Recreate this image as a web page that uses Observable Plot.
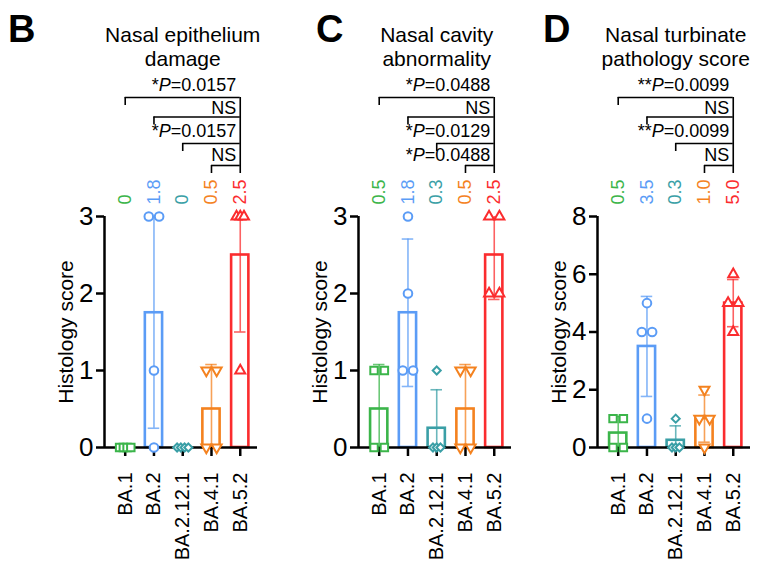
<!DOCTYPE html>
<html><head><meta charset="utf-8">
<script src="https://cdn.jsdelivr.net/npm/d3@7"></script>
<script src="https://cdn.jsdelivr.net/npm/@observablehq/plot@0.6"></script>
<style>
body{margin:0;background:#fff;font-family:Arial,"Liberation Sans",Helvetica,sans-serif;}
#wrap{position:relative;width:769px;height:567px;overflow:hidden;background:#fff;}
.panel{position:absolute;top:0;}
.letter{position:absolute;top:10px;font-weight:bold;font-size:38px;line-height:1;color:#000;}
</style></head><body><div id="wrap"></div>
<script>
// ---------- data ----------
const variants = ["BA.1", "BA.2", "BA.2.12.1", "BA.4.1", "BA.5.2"];
const colors = ["#3bb54a", "#5b9cf6", "#3a9fa6", "#f4821f", "#fb2c2e"];
const panelLetters = ["B", "C", "D"];
const titles = ["Nasal epithelium\ndamage", "Nasal cavity\nabnormality", "Nasal turbinate\npathology score"];
const yLabel = "Histology score";
const yMax = [3, 3, 8];
const yTicksB = [0, 1, 2, 3];
const yTicksC = [0, 1, 2, 3];
const yTicksD = [0, 2, 4, 6, 8];
const meanLabelsB = ["0", "1.8", "0", "0.5", "2.5"];
const meanLabelsC = ["0.5", "1.8", "0.3", "0.5", "2.5"];
const meanLabelsD = ["0.5", "3.5", "0.3", "1.0", "5.0"];
// individual animal scores per variant
const scoresB = [[0, 0, 0, 0], [3, 3, 1, 0], [0, 0, 0, 0], [1, 1, 0, 0], [3, 3, 3, 1]];
const scoresC = [[1, 1, 0, 0], [3, 2, 1, 1], [1, 0, 0, 0], [1, 1, 0, 0], [3, 3, 2, 2]];
const scoresD = [[1, 1, 0, 0], [5, 4, 4, 1], [1, 0, 0, 0], [2, 1, 1, 0], [6, 5, 5, 4]];
// comparisons: each variant index vs BA.5.2
const compareFrom = [0, 1, 2, 3];
const compareTo = 4;
const pTextB = ["*P=0.0157", "NS", "*P=0.0157", "NS"];
const pTextC = ["*P=0.0488", "NS", "*P=0.0129", "*P=0.0488"];
const pTextD = ["**P=0.0099", "NS", "**P=0.0099", "NS"];

const panels = [
  {letter: panelLetters[0], title: titles[0], ymax: yMax[0], ticks: yTicksB, labels: meanLabelsB, scores: scoresB, ptext: pTextB},
  {letter: panelLetters[1], title: titles[1], ymax: yMax[1], ticks: yTicksC, labels: meanLabelsC, scores: scoresC, ptext: pTextC},
  {letter: panelLetters[2], title: titles[2], ymax: yMax[2], ticks: yTicksD, labels: meanLabelsD, scores: scoresD, ptext: pTextD}
];

// ---------- layout ----------
const H = 567, MT = 216, MB = 120, ML = 75, MR = 10, W = 238;
const plotH = H - MT - MB;
const xDomain = [-0.72, 4.6];
const panelLeft = [29, 283, 522];
const letterLeft = [8, 316, 543];
const bracketOff = [119, 99.5, 73, 51];
const textOff = [125.5, 102.5, 80, 55.5];
const font = "Arial, 'Liberation Sans', Helvetica, sans-serif";

const triDown = {
  draw(context, size) {
    const s3 = Math.sqrt(3);
    const y = -Math.sqrt(size / (s3 * 3));
    context.moveTo(0, -y * 2);
    context.lineTo(-s3 * y, y);
    context.lineTo(s3 * y, y);
    context.closePath();
  }
};
const symbols = ["square", "circle", "diamond2", triDown, "triangle"];
const symbolR = [4.2, 4.3, 3.6, 3.7, 3.7];

function dodge(vals) {
  const counts = d3.rollup(vals, v => v.length, v => v);
  const seen = new Map();
  return vals.map(v => {
    const k = counts.get(v), j = seen.get(v) || 0;
    seen.set(v, j + 1);
    const step = k === 2 ? 0.36 : 0.13;
    return (j - (k - 1) / 2) * step;
  });
}

const wrap = document.getElementById("wrap");

panels.forEach((p, pi) => {
  const ymax = p.ymax;
  const toData = off => ymax * (1 + off / plotH);
  const bars = variants.map((v, i) => {
    const vals = p.scores[i];
    const mean = d3.mean(vals), sd = d3.deviation(vals);
    return {i, v, mean, sd, lo: Math.max(0, mean - sd), hi: Math.min(ymax, mean + sd),
      color: colors[i], label: p.labels[i]};
  });
  const caps = [];
  bars.forEach(b => {
    if (b.sd > 0) {
      if (b.mean - b.sd >= 0) caps.push({i: b.i, y: b.mean - b.sd, color: b.color});
      if (b.mean + b.sd <= ymax) caps.push({i: b.i, y: b.mean + b.sd, color: b.color});
    }
  });
  const pointMarks = variants.map((v, i) => {
    const vals = p.scores[i];
    const offs = dodge(vals);
    const pts = vals.map((s, j) => ({x: i + offs[j], y: s}));
    return Plot.dot(pts, {x: "x", y: "y", symbol: symbols[i], r: symbolR[i], stroke: colors[i], fill: "white", strokeWidth: 2});
  });

  const svg = Plot.plot({
    width: W, height: H,
    marginTop: MT, marginBottom: MB, marginLeft: ML, marginRight: MR,
    style: {fontFamily: font, color: "black", background: "transparent", overflow: "visible"},
    x: {domain: xDomain},
    y: {domain: [0, ymax]},
    color: {type: "identity"},
    marks: [
      Plot.axisY(p.ticks, {tickSize: 8, fontSize: 26, strokeWidth: 2.5, tickPadding: 3, tickFormat: d => String(d), label: null}),
      Plot.axisX([0, 1, 2, 3, 4], {tickSize: 9, tickRotate: -90, tickFormat: i => variants[i], fontSize: 20, tickPadding: 16, strokeWidth: 2.5, label: null}),
      Plot.rectY(bars, {x1: d => d.i - 0.3, x2: d => d.i + 0.3, y1: () => 0, y2: "mean", stroke: "color", fill: "white", strokeWidth: 2.6}),
      Plot.ruleY([0], {strokeWidth: 2.5}),
      Plot.ruleX([xDomain[0]], {y1: () => 0, y2: () => ymax, strokeWidth: 2.5}),
      Plot.ruleX(bars.filter(b => b.sd > 0), {x: "i", y1: "lo", y2: "hi", stroke: "color", strokeWidth: 1.6, strokeOpacity: 0.75}),
      Plot.ruleY(caps, {x1: d => d.i - 0.2, x2: d => d.i + 0.2, y: "y", stroke: "color", strokeWidth: 1.6, strokeOpacity: 0.75}),
      ...pointMarks,
      Plot.text(bars, {x: "i", y: () => toData(12), text: "label", rotate: -90, textAnchor: "start", fill: "color", fontSize: 18}),
      Plot.text([yLabel], {frameAnchor: "left", textAnchor: "middle", dx: -38.5, rotate: -90, fontSize: 21}),
      Plot.text([p.title], {x: () => 2, y: () => toData(151), text: d => d, lineAnchor: "bottom", fontSize: 21, lineHeight: 1.14}),
      // significance brackets
      Plot.ruleY(compareFrom, {x1: d => d, x2: () => compareTo, y: (d, k) => toData(bracketOff[k]), strokeWidth: 1.6}),
      Plot.ruleX(compareFrom, {x: d => d, y1: (d, k) => toData(bracketOff[k]), y2: (d, k) => toData(bracketOff[k] - 8), strokeWidth: 1.6}),
      Plot.ruleX([compareTo], {y1: () => toData(bracketOff[0]), y2: () => toData(bracketOff[3] - 8), strokeWidth: 1.6}),
      Plot.text(compareFrom, {x: () => compareTo, y: (d, k) => toData(textOff[k]), text: (d, k) => p.ptext[k], textAnchor: "end", lineAnchor: "bottom", dx: -4, fontSize: 18})
    ]
  });
  // italic P in P-value labels
  svg.querySelectorAll("text").forEach(t => {
    const m = /^(\*+)P(=.*)$/.exec(t.textContent);
    if (m && t.children.length === 0) {
      t.textContent = "";
      t.appendChild(document.createTextNode(m[1]));
      const ts = document.createElementNS("http://www.w3.org/2000/svg", "tspan");
      ts.setAttribute("font-style", "italic");
      ts.textContent = "P";
      t.appendChild(ts);
      t.appendChild(document.createTextNode(m[2]));
    }
  });
  svg.classList.add("panel");
  svg.style.left = panelLeft[pi] + "px";
  wrap.appendChild(svg);

  const L = document.createElement("div");
  L.className = "letter";
  L.style.left = letterLeft[pi] + "px";
  L.textContent = p.letter;
  wrap.appendChild(L);
});
</script></body></html>
